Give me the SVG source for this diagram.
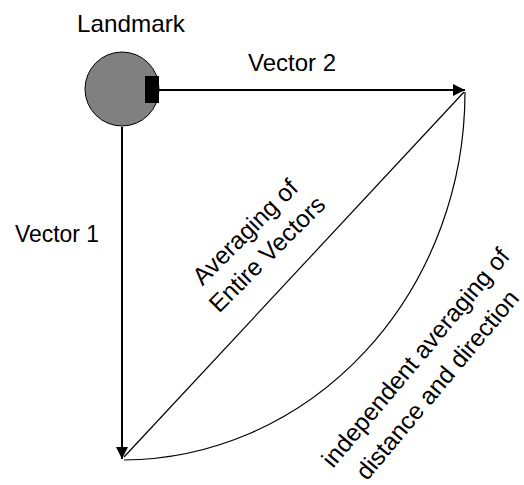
<svg xmlns="http://www.w3.org/2000/svg" width="524" height="485" viewBox="0 0 524 485">
<defs>
<style>
.t{font-family:"Liberation Sans",Arial,sans-serif;font-size:24px;fill:#000}
.r{font-family:"Liberation Sans",Arial,sans-serif;font-size:24.5px;fill:#000;text-anchor:middle}
.v{stroke:#000;stroke-width:2;fill:none}
.thin{stroke:#000;stroke-width:1.2;fill:none}
</style>
<marker id="ah" viewBox="0 0 10 10" refX="10" refY="5" markerWidth="6" markerHeight="6" orient="auto" markerUnits="strokeWidth">
<path d="M0,0 L10,5 L0,10 z" fill="#000"/>
</marker>
</defs>
<rect width="524" height="485" fill="#fff"/>
<g id="connectors">
<line class="v" x1="159" y1="90" x2="465" y2="90" marker-end="url(#ah)"/>
<line class="v" x1="122" y1="127" x2="122" y2="459" marker-end="url(#ah)"/>
<line class="thin" x1="124" y1="457" x2="464" y2="92"/>
<path class="thin" d="M465,92 A343,368 0 0 1 124,460"/>
</g>
<g id="landmark">
<circle cx="122" cy="89" r="37" fill="#808080" stroke="#000" stroke-width="1"/>
<rect x="145" y="76" width="14" height="27" fill="#000"/>
<text class="t" x="77" y="32" textLength="108" lengthAdjust="spacingAndGlyphs">Landmark</text>
</g>
<g id="vector2-label"><text class="t" x="248" y="71" textLength="88" lengthAdjust="spacingAndGlyphs">Vector 2</text></g>
<g id="vector1-label"><text class="t" x="15" y="242" textLength="84" lengthAdjust="spacingAndGlyphs">Vector 1</text></g>
<g id="entire-label" transform="translate(251,238) rotate(-45)">
<text class="r" x="0" y="0">Averaging of</text>
<text class="r" x="0" y="31">Entire Vectors</text>
</g>
<g id="independent-label" transform="translate(422,363) rotate(-50)">
<text class="r" x="0" y="0">independent averaging of</text>
<text class="r" x="-7" y="34">distance and direction</text>
</g>
</svg>
